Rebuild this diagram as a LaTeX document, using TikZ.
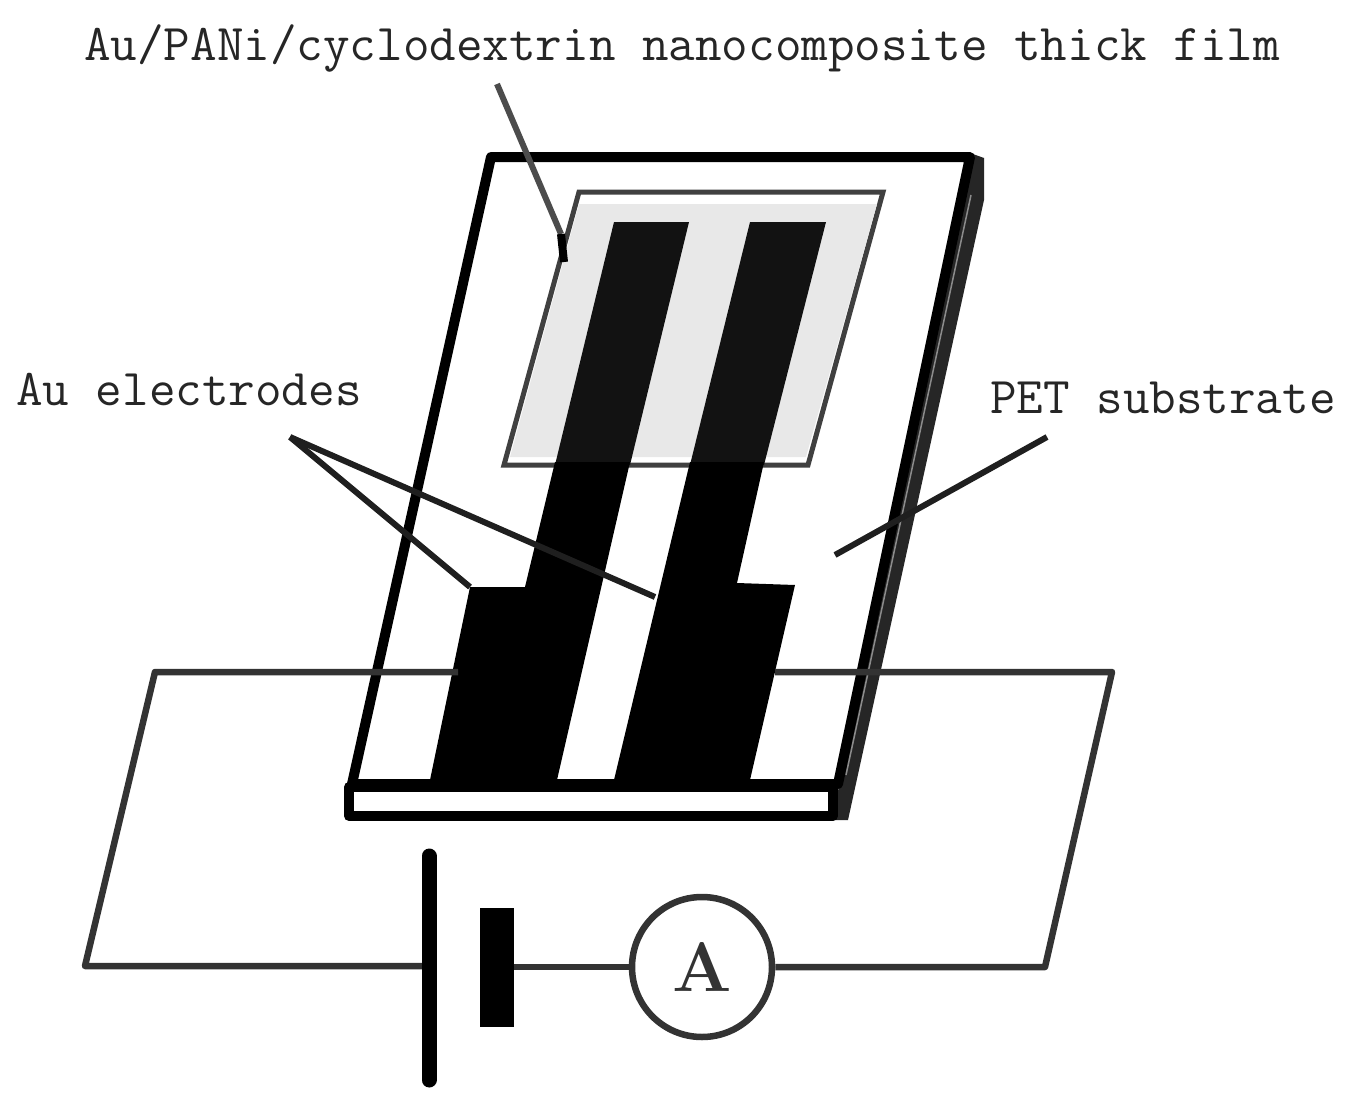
\documentclass[tikz,border=0pt]{standalone}
\tikzset{
  lbl/.style={inner sep=0pt,font=\fontsize{51.6}{51.6}\selectfont\ttfamily,text=black!85},
  wire/.style={draw=black!80,line width=6.5pt,line join=round},
  leader/.style={draw=black!88,line width=6pt},
  thickedge/.style={draw=black,line width=10pt,line join=round},
}
\begin{document}
\begin{tikzpicture}[x=1pt,y=-1pt]
\useasboundingbox[fill=white] (0,0) rectangle (1350,1108);
% substrate
\fill[black!85] (970,153) -- (984,158) -- (984,200) -- (848,820) -- (832,820) -- cycle;
\filldraw[thickedge,fill=white] (491,157) -- (970,157) -- (838,784) -- (352,784) -- cycle;
\draw[draw=black,line width=10pt,fill=white,line join=round] (349,787) rectangle (833,816);
\draw[black!45,line width=1.5pt] (971,195) -- (846,775);
% film
\filldraw[draw=black!75,line width=5pt,fill=white,line join=miter] (579,192) -- (883,192) -- (808,465) -- (504,465) -- cycle;
\fill[black!9] (579,204) -- (877,204) -- (806,457) -- (510,457) -- cycle;
% electrodes
\fill[black!93] (614,222) -- (689,222) -- (630,465) -- (555,465) -- cycle;
\fill[black!93] (750,222) -- (826,222) -- (764,465) -- (690,465) -- cycle;
\fill[black] (555,462) -- (630,462) -- (557,780) -- (430,780) -- (470,587) -- (525,587) -- cycle;
\fill[black] (690,462) -- (764,462) -- (737,583) -- (795,585) -- (750,780) -- (614,780) -- cycle;
% wires
\coordinate (wl1) at (458,672); \coordinate (wl2) at (155,672); \coordinate (wl3) at (85,966);
\coordinate (wr1) at (775,672); \coordinate (wr2) at (1112,672); \coordinate (wr3) at (1045,967);
\coordinate (pl1) at (429,856); \coordinate (pl2) at (429,1080);
\coordinate (bl) at (429,966);
\node[draw=black,fill=black,minimum width=33pt,minimum height=118pt,inner sep=0pt] (batt) at (497,967) {};
\node[circle,draw=black!80,line width=6.5pt,minimum size=140pt,inner sep=0pt,font=\fontsize{70}{70}\selectfont\rmfamily\bfseries,text=black!80] (amm) at (702,967) {A};
\draw[wire] (wl1) -- (wl2) -- (wl3) -- (bl);
\draw[wire] (wr1) -- (wr2) -- (wr3) -- (amm.east);
\draw[wire] (batt.east) -- (amm.west);
\draw[draw=black,line width=15pt,line cap=round] (pl1) -- (pl2);
% labels
\node[lbl,anchor=base west] (t1) at (84,61) {Au/PANi/cyclodextrin nanocomposite thick film};
\node[lbl,anchor=base west] (t2) at (16,405) {Au electrodes};
\node[lbl,anchor=base west] (t3) at (990,413) {PET substrate};
% leaders
\coordinate (a0) at (497,84); \coordinate (a1) at (561,234); \coordinate (a2) at (564,262);
\coordinate (b0) at (290,437); \coordinate (b1) at (655,597); \coordinate (b2) at (470,587);
\coordinate (c0) at (1047,437); \coordinate (c1) at (835,555);
\draw[leader,draw=black!70] (a0) -- (a1);
\draw[draw=black,line width=8pt] (a1) -- (a2);
\draw[leader] (b0) -- (b1);
\draw[leader] (b0) -- (b2);
\draw[leader] (c0) -- (c1);
\end{tikzpicture}
\end{document}
